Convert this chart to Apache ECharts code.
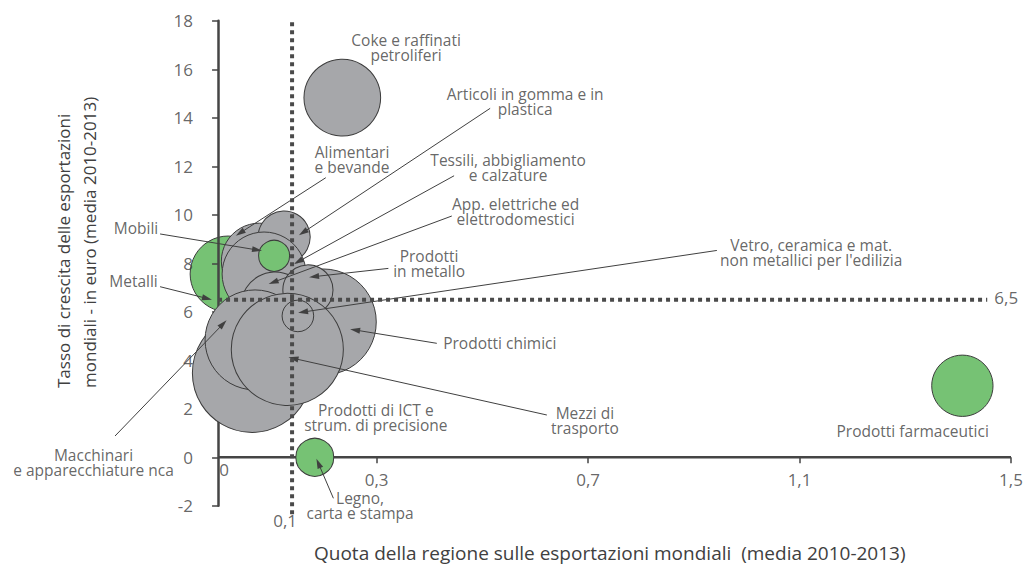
<!DOCTYPE html>
<html><head><meta charset="utf-8">
<script src="https://cdn.jsdelivr.net/npm/echarts@6/dist/echarts.min.js"></script>
<style>html,body{margin:0;padding:0;background:#fff}#c{width:1030px;height:565px}</style>
</head><body><div id="c"></div>
<script>
// ---- DATA ----
const settori = ['Metalli','Prodotti chimici','Alimentari e bevande','Articoli in gomma e in plastica','Tessili, abbigliamento e calzature','Mobili','App. elettriche ed elettrodomestici','Prodotti in metallo','Prodotti di ICT e strum. di precisione','Macchinari e apparecchiature nca','Mezzi di trasporto',"Vetro, ceramica e mat. non metallici per l'edilizia",'Coke e raffinati petroliferi','Legno, carta e stampa','Prodotti farmaceutici'];
const quota    = [0.019, 0.199, 0.078, 0.125, 0.087, 0.106, 0.108, 0.170, 0.064, 0.070, 0.131, 0.151, 0.235, 0.183, 1.408];
const crescita = [7.56, 5.58, 8.09, 9.08, 7.56, 8.31, 6.24, 6.90, 3.48, 4.84, 4.45, 5.83, 14.83, 0.0, 2.95];
const peso     = [14.4, 28.1, 14.4, 6.8, 17.6, 2.4, 11.6, 6.3, 35.4, 25.0, 31.4, 2.5, 14.7, 3.6, 9.4];
const verde    = [1, 0, 0, 0, 0, 1, 0, 0, 0, 0, 0, 0, 0, 1, 1];
const xTickValues = [0.3, 0.7, 1.1, 1.5];
const yMin = -2, yMax = 18, yStep = 2;
const yTickValues = [-2, 0, 2, 4, 6, 8, 10, 12, 14, 16, 18];
const sogliaX = 0.14, sogliaXLabel = '0,1';
const sogliaY = 6.5, sogliaYLabel = '6,5';

// ---- LAYOUT (annotation anchors in data space) ----
const etichette = [
  ['Coke e raffinati\npetroliferi', 0.3557, 16.90],
  ['Articoli in gomma e in\nplastica', 0.5809, 14.66],
  ['Alimentari\ne bevande', 0.2535, 12.28],
  ['Tessili, abbigliamento\ne calzature', 0.5487, 11.95],
  ['App. elettriche ed\nelettrodomestici', 0.5629, 10.13],
  ['Prodotti\nin metallo', 0.3992, 7.98],
  ["Vetro, ceramica e mat.\nnon metallici per l'edilizia", 1.122, 8.45],
  ['Mobili', -0.1552, 9.46],
  ['Metalli', -0.1599, 7.27],
  ['Prodotti chimici', 0.533, 4.73],
  ['Mezzi di\ntrasporto', 0.694, 1.53],
  ['Prodotti di ICT e\nstrum. di precisione', 0.2984, 1.66],
  ['Legno,\ncarta e stampa', 0.2687, -2.0],
  ['Prodotti farmaceutici', 1.314, 1.10],
  ['Macchinari\ne apparecchiature nca', -0.2356, -0.235]
];
const frecce = [
  [0.5147, 14.39, 0.1608, 9.27],
  [0.2038, 11.53, 0.0416, 9.25],
  [0.4465, 11.61, 0.1519, 8.07],
  [0.4422, 9.95, 0.1046, 7.22],
  [0.3222, 7.79, 0.1816, 7.45],
  [0.9436, 8.53, 0.1608, 5.99],
  [-0.1097, 9.21, 0.0738, 8.55],
  [-0.1097, 7.035, -0.0208, 6.55],
  [0.4138, 4.70, 0.2592, 5.25],
  [0.622, 1.744, 0.1425, 4.08],
  [0.2182, -1.69, 0.1898, -0.247],
  [-0.1949, 0.878, 0.0095, 5.50]
];
const yLabelX = -0.0473;   // data-x where the y tick labels end
const xLabelY = -0.936;    // data-y where the x tick labels sit

const TXT = '#404040', AX = '#454545';
const GRAY = '#a6a7aa', GREEN = '#76c274';
const FONT = '"Open Sans", "Noto Sans", sans-serif';
const fmt = v => String(Math.round(v * 10) / 10).replace('.', ',');

const bubble = i => ({
  value: [quota[i], crescita[i], peso[i]],
  name: settori[i],
  itemStyle: { color: verde[i] ? GREEN : GRAY }
});
const idx = settori.map((_, i) => i);
const textSeries = (data, label, extra) => Object.assign({
  type: 'scatter', z: 6, clip: false, silent: true,
  symbol: 'circle', symbolSize: 0.01, itemStyle: { color: 'rgba(0,0,0,0)' },
  data: data,
  label: Object.assign({ show: true, position: 'inside', formatter: '{b}', color: TXT, fontFamily: FONT }, label)
}, extra || {});
const refLine = (pts, z) => ({
  type: 'line', z: z, silent: true, clip: false, data: pts,
  showSymbol: false, symbol: 'none',
  lineStyle: { color: '#4a4a4a', width: 4, type: [4, 4] }
});

const chart = echarts.init(document.getElementById('c'), null, { renderer: 'svg' });
chart.setOption({
  animation: false,
  textStyle: { fontFamily: FONT },
  grid: { left: 0, right: 19, top: 20.8, bottom: 59.2, containLabel: false, outerBoundsMode: 'none' },
  xAxis: {
    type: 'value', min: -0.4125, max: 1.5,
    axisLine: { show: true, onZero: true, lineStyle: { opacity: 0, width: 0 } },
    axisTick: { show: true, customValues: xTickValues, length: 6, lineStyle: { color: AX, width: 1.5 } },
    axisLabel: { show: false },
    splitLine: { show: false }
  },
  yAxis: {
    type: 'value', min: yMin, max: yMax, interval: yStep, z: 1.5,
    axisLine: { show: true, onZero: true, lineStyle: { color: AX, width: 2.5 } },
    axisTick: { show: true, length: 6, lineStyle: { color: AX, width: 1.5 } },
    axisLabel: { show: false },
    splitLine: { show: false }
  },
  series: [
    {
      type: 'scatter', z: 1, clip: false, silent: true,
      data: idx.filter(i => i === 0).map(bubble),
      symbolSize: v => 20 * Math.sqrt(v[2]),
      itemStyle: { borderColor: '#3c3c3c', borderWidth: 1, opacity: 1 }
    },
    {
      type: 'line', z: 1.6, silent: true, clip: false,
      data: [[0, 0], [1.5, 0]],
      showSymbol: false, symbol: 'none',
      lineStyle: { color: AX, width: 2.5 }
    },
    {
      type: 'scatter', z: 2, clip: false, silent: true,
      data: idx.filter(i => i !== 0).map(bubble),
      symbolSize: v => 20 * Math.sqrt(v[2]),
      itemStyle: { borderColor: '#3c3c3c', borderWidth: 1, opacity: 1 }
    },
    refLine([[sogliaX, -2.35], [sogliaX, yMax]], 5.5),
    refLine([[0, sogliaY], [1.455, sogliaY]], 5.5),
    textSeries(
      etichette.map(e => ({ name: e[0], value: [e[1], e[2]] })),
      { fontSize: 15.5, lineHeight: 15, align: 'center' },
      { markLine: {
        z: 5, silent: true, symbol: ['none', 'triangle'], symbolSize: [6, 10], label: { show: false },
        lineStyle: { color: '#404040', width: 1, type: 'solid' },
        data: frecce.map(f => [{ coord: [f[0], f[1]] }, { coord: [f[2], f[3]] }])
      } }
    ),
    textSeries(
      [
        { name: sogliaYLabel, value: [1.491, 6.59] },
        { name: sogliaXLabel, value: [0.1268, -2.59] },
        { name: '0', value: [0.0114, -0.52] }
      ],
      { fontSize: 17 }
    ),
    textSeries(yTickValues.map(v => ({ name: fmt(v), value: [yLabelX, v] })), { fontSize: 17, align: 'right' }),
    textSeries(xTickValues.map(v => ({ name: fmt(v), value: [v, xLabelY] })), { fontSize: 17, align: 'center' })
  ],
  graphic: [
    { type: 'text', x: 63, y: 388, rotation: Math.PI / 2, silent: true,
      style: { text: 'Tasso di crescita delle esportazioni', fontSize: 17, fontFamily: FONT, fill: TXT, align: 'left', verticalAlign: 'middle' } },
    { type: 'text', x: 89, y: 388, rotation: Math.PI / 2, silent: true,
      style: { text: 'mondiali - in euro (media 2010-2013)', fontSize: 17, fontFamily: FONT, fill: TXT, align: 'left', verticalAlign: 'middle' } },
    { type: 'text', x: 314, y: 553, silent: true,
      style: { text: 'Quota della regione sulle esportazioni mondiali  (media 2010-2013)', fontSize: 19, fontFamily: FONT, fill: TXT, align: 'left', verticalAlign: 'middle' } }
  ]
});
</script>
</body></html>
